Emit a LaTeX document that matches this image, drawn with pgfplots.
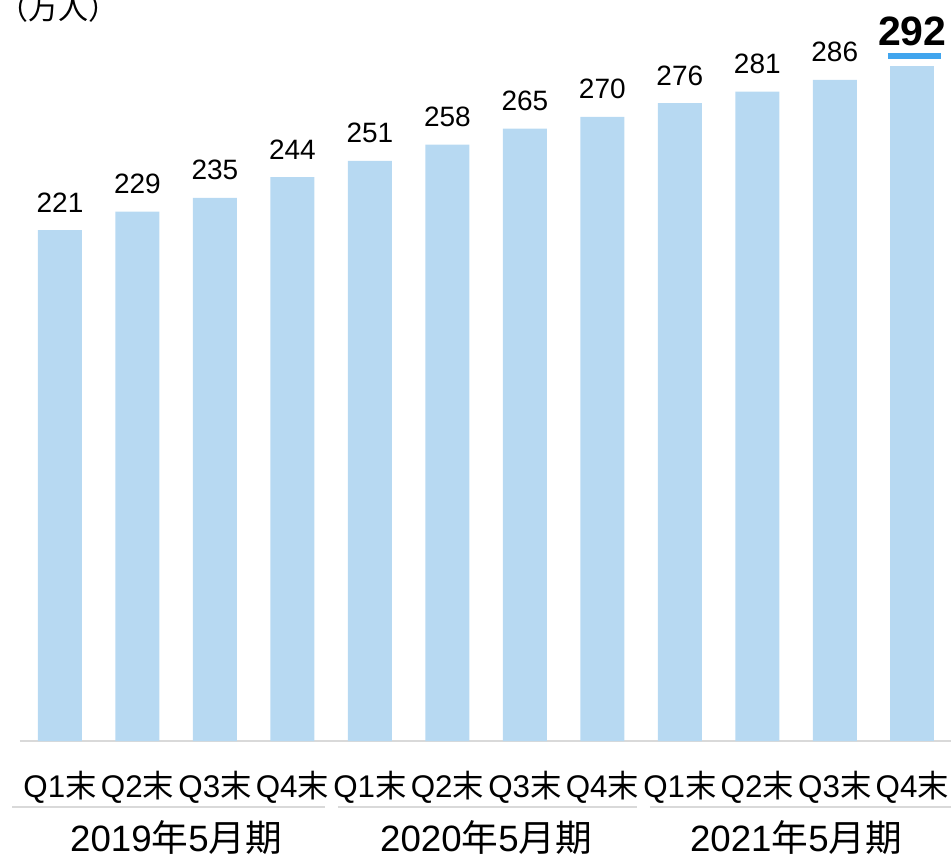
\documentclass[border=0pt]{standalone}
\usepackage{pgfplots}
\pgfplotsset{compat=1.18}
\usepackage{fontspec}
\setmainfont{Liberation Sans}
\newfontfamily\cjk{Noto Sans CJK JP}
\definecolor{barblue}{HTML}{B7D9F2}
\definecolor{lineblue}{HTML}{41A5EE}
\definecolor{rulegray}{HTML}{D9D9D9}

\begin{document}
\begin{tikzpicture}
% 1px of the reference = 0.75pt
\path[use as bounding box] (-15pt,-84.75pt) rectangle (698.25pt,555.75pt);
\begin{axis}[
  scale only axis, width=698.25pt, height=555.75pt,
  xmin=-0.516, xmax=11.5, ymin=0, ymax=320.6,
  axis x line*=bottom, axis y line=none,
  x axis line style={rulegray, line width=1.5pt},
  ytick=\empty,
  xtick={0,...,11},
  xticklabels={Q1{\cjk 末},Q2{\cjk 末},Q3{\cjk 末},Q4{\cjk 末},
               Q1{\cjk 末},Q2{\cjk 末},Q3{\cjk 末},Q4{\cjk 末},
               Q1{\cjk 末},Q2{\cjk 末},Q3{\cjk 末},Q4{\cjk 末}},
  major tick length=0pt,
  xticklabel style={anchor=base, yshift=-42.5pt, inner sep=0pt,
    font=\fontsize{23.5}{28}\selectfont},
  clip=false,
  /pgf/number format/assume math mode=true,
  ybar, bar width=33pt,
]
  \addplot[fill=barblue, draw=none, bar shift=0pt,
    nodes near coords,
    every node near coord/.append style={anchor=base, yshift=13.5pt,
      inner sep=0pt, black, font=\fontsize{21}{25}\selectfont}]
    coordinates {(0,221) (1,229) (2,235) (3,244) (4,251) (5,258)
                 (6,265) (7,270) (8,276) (9,281) (10,286)};
  \addplot[fill=barblue, draw=none, bar shift=0pt,
    nodes near coords,
    every node near coord/.append style={anchor=base, yshift=15.75pt,
      inner sep=0pt, black, font=\bfseries\fontsize{30.75}{36}\selectfont}]
    coordinates {(11,292)};

  \draw[lineblue, line width=4.5pt]
    ([yshift=7.5pt]axis cs:10.684,292) -- ([yshift=7.5pt]axis cs:11.368,292);

  % group separators
  \draw[rulegray, line width=1.5pt] ([yshift=-49.5pt]axis cs:-0.619,0) -- ([yshift=-49.5pt]axis cs:3.419,0);
  \draw[rulegray, line width=1.5pt] ([yshift=-49.5pt]axis cs:3.587,0) -- ([yshift=-49.5pt]axis cs:7.445,0);
  \draw[rulegray, line width=1.5pt] ([yshift=-49.5pt]axis cs:7.613,0) -- ([yshift=-49.5pt]axis cs:11.5,0);

  \node[anchor=base, inner sep=0pt, font=\fontsize{27.5}{32}\selectfont]
    at ([yshift=-82.5pt]axis cs:1.5,0) {2019{\cjk 年}5{\cjk 月期}};
  \node[anchor=base, inner sep=0pt, font=\fontsize{27.5}{32}\selectfont]
    at ([yshift=-82.5pt]axis cs:5.5,0) {2020{\cjk 年}5{\cjk 月期}};
  \node[anchor=base, inner sep=0pt, font=\fontsize{27.5}{32}\selectfont]
    at ([yshift=-82.5pt]axis cs:9.5,0) {2021{\cjk 年}5{\cjk 月期}};

  \node[anchor=base west, inner sep=0pt, font=\cjk\fontsize{22.5}{27}\selectfont]
    at ([xshift=-16.5pt, yshift=-15pt]rel axis cs:0,1) {（万人）};
\end{axis}
\end{tikzpicture}
\end{document}
